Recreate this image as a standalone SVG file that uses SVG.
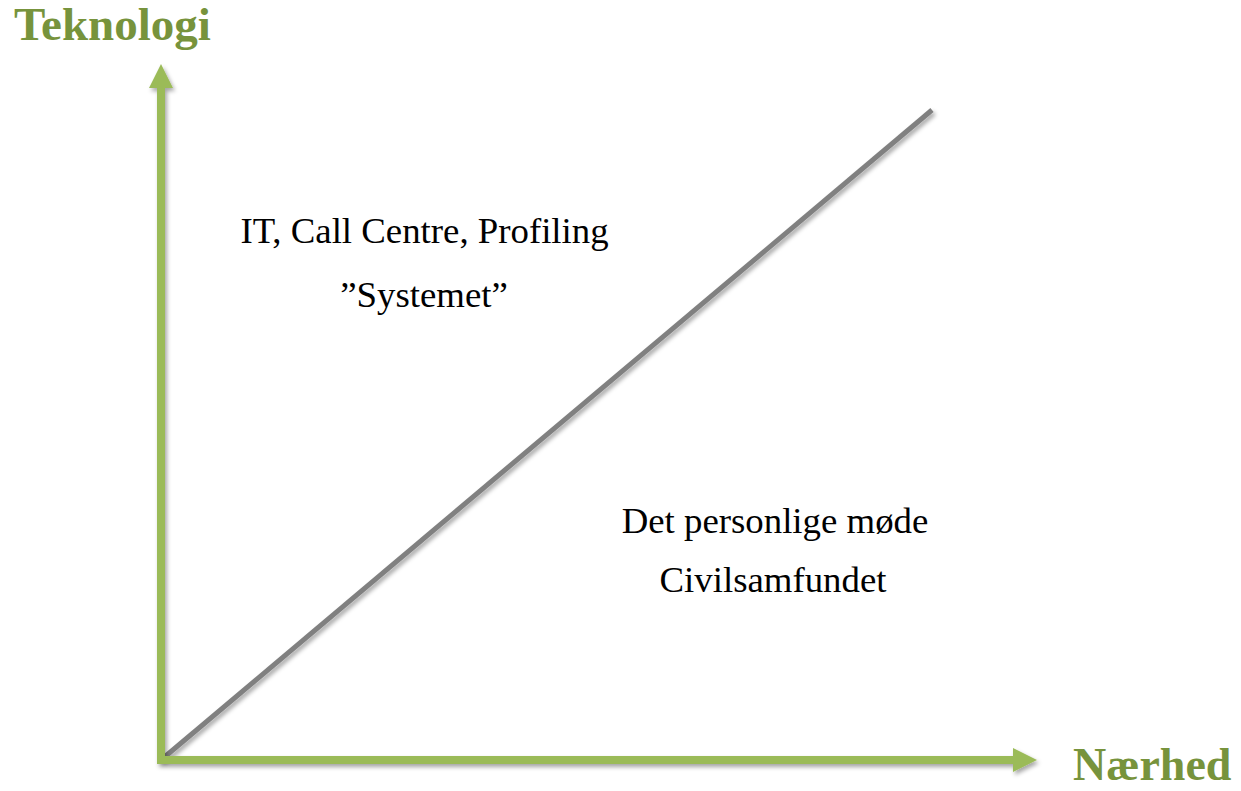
<svg xmlns="http://www.w3.org/2000/svg" width="1241" height="791" viewBox="0 0 1241 791">
  <defs>
    <filter id="sh" x="-10%" y="-10%" width="120%" height="120%">
      <feDropShadow dx="2" dy="3" stdDeviation="2" flood-color="#000" flood-opacity="0.35"/>
    </filter>
    <marker id="ah" viewBox="0 0 24 24" markerUnits="userSpaceOnUse" markerWidth="24" markerHeight="24" refX="0" refY="12" orient="auto">
      <path d="M0,0 L24,12 L0,24 Z" fill="#9BBB59"/>
    </marker>
    <style>
      .axis { stroke: #9BBB59; stroke-width: 8; fill: none; }
      .diag { stroke: #808080; stroke-width: 5; fill: none; }
      .title { font-family: "Liberation Serif", "Times New Roman", serif; font-weight: bold; font-size: 47px; fill: #77933C; }
      .lbl { font-family: "Liberation Serif", "Times New Roman", serif; font-size: 36.8px; fill: #000; text-anchor: middle; }
    </style>
  </defs>
  <rect width="1241" height="791" fill="#fff"/>
  <g id="connectors">
    <line class="diag" x1="161" y1="760" x2="932" y2="110" filter="url(#sh)"/>
    <g filter="url(#sh)">
      <line class="axis" x1="161" y1="764" x2="161" y2="88" marker-end="url(#ah)"/>
      <line class="axis" x1="157" y1="760" x2="1013" y2="760" marker-end="url(#ah)"/>
    </g>
  </g>
  <g id="axis-y-label"><text class="title" x="14" y="40">Teknologi</text></g>
  <g id="axis-x-label"><text class="title" x="1073" y="780" style="font-size:46px">Nærhed</text></g>
  <g id="upper-region">
    <text class="lbl" x="424.5" y="243">IT, Call Centre, Profiling</text>
    <text class="lbl" x="424" y="307">”Systemet”</text>
  </g>
  <g id="lower-region">
    <text class="lbl" x="775" y="533">Det personlige møde</text>
    <text class="lbl" x="773" y="592">Civilsamfundet</text>
  </g>
</svg>
